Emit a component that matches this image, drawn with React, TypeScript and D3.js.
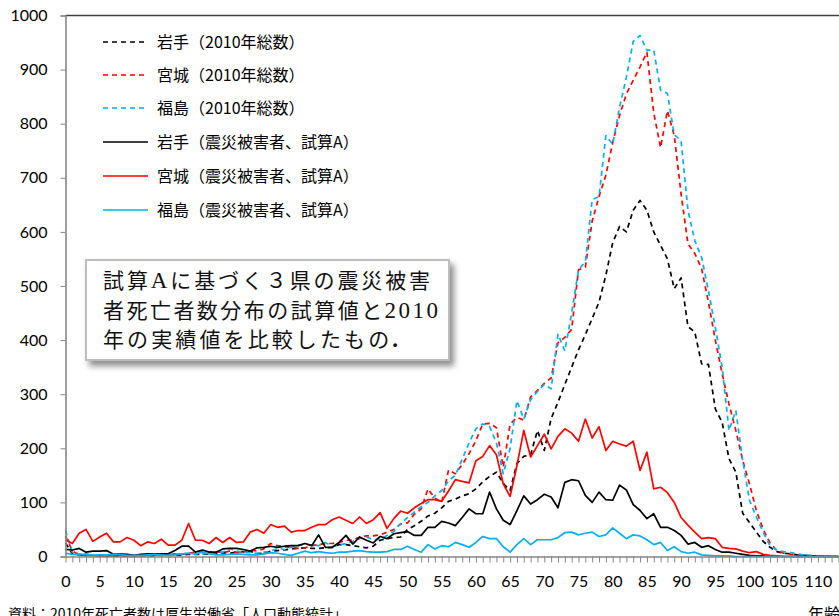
import React from 'react';
import * as d3 from 'd3';

// ages 0..113 (category axis)
const ages: number[] = Array.from({ length: 114 }, (_, i) => i);
const yTicks = [0, 100, 200, 300, 400, 500, 600, 700, 800, 900, 1000];

// 2010 totals (dashed)
const iwateTotal = [
  25, 5, 3, 2, 2, 1, 1, 1, 1, 1,
  1, 1, 1, 1, 2, 2, 2, 3, 4, 4,
  4, 5, 6, 7, 6, 8, 9, 10, 5, 6,
  10, 11, 12, 14, 15, 16, 15, 15, 16, 17,
  22, 22, 20, 18, 16, 19, 30, 33, 35, 36,
  50, 57, 65, 75, 80, 90, 102, 106, 112, 116,
  125, 138, 148, 156, 135, 122, 172, 185, 188, 233,
  196, 255, 285, 318, 350, 382, 410, 440, 470, 520,
  580, 610, 600, 640, 658, 640, 600, 575, 550, 495,
  515, 425, 415, 356, 355, 273, 248, 181, 156, 80,
  63, 45, 28, 17, 9, 6, 5, 3, 2, 1,
  1, 0, 0, 0,
];
const miyagiTotal = [
  38, 10, 3, 2, 2, 1, 1, 1, 2, 1,
  1, 1, 2, 3, 3, 3, 5, 4, 6, 8,
  9, 8, 9, 7, 10, 8, 8, 12, 10, 14,
  24, 20, 18, 17, 15, 16, 20, 22, 24, 24,
  26, 30, 30, 36, 38, 38, 40, 45, 50, 60,
  62, 78, 88, 125, 108, 100, 160, 153, 170, 190,
  214, 245, 246, 238, 165, 245, 257, 252, 295, 307,
  320, 330, 395, 405, 420, 530, 535, 620, 665, 705,
  765, 815, 855, 880, 905, 932, 820, 756, 824, 778,
  670, 578, 560, 532, 470, 400, 338, 282, 233, 178,
  134, 85, 50, 25, 11, 6, 4, 3, 2, 1,
  1, 0, 0, 0,
];
const fukushimaTotal = [
  48, 8, 5, 3, 2, 2, 2, 3, 4, 2,
  2, 2, 3, 3, 3, 4, 5, 5, 6, 5,
  5, 6, 7, 8, 15, 10, 8, 7, 6, 8,
  10, 15, 13, 17, 20, 23, 21, 20, 26, 18,
  21, 24, 28, 33, 36, 31, 32, 39, 46, 61,
  72, 82, 92, 100, 112, 122, 140, 150, 180, 210,
  236, 245, 240, 210, 153, 200, 288, 254, 290, 305,
  318, 310, 411, 380, 450, 530, 545, 660, 665, 778,
  762, 830, 886, 952, 963, 936, 936, 862, 856, 780,
  768, 640, 584, 553, 491, 424, 350, 233, 270, 178,
  104, 73, 45, 20, 12, 9, 7, 5, 3, 2,
  1, 1, 0, 0,
];

// estimate A (solid)
const iwateA = [
  13, 12, 15, 8, 10, 10, 11, 4, 5, 4,
  2, 4, 5, 5, 5, 5, 11, 19, 19, 8,
  12, 8, 8, 14, 15, 15, 13, 10, 16, 17,
  19, 17, 19, 20, 20, 24, 20, 40, 17, 17,
  26, 39, 23, 36, 30, 25, 37, 33, 42, 44,
  46, 39, 39, 54, 54, 65, 62, 57, 72, 88,
  79, 79, 119, 88, 67, 59, 85, 112, 97, 105,
  115, 110, 90, 137, 142, 140, 113, 100, 119, 105,
  104, 132, 123, 96, 85, 70, 79, 54, 54, 48,
  39, 23, 26, 17, 20, 13, 8, 8, 6, 4,
  2, 1, 1, 0, 0, 0, 0, 0, 0, 0,
  0, 0, 0, 0,
];
const miyagiA = [
  31, 24, 43, 50, 28, 36, 43, 27, 27, 35,
  30, 20, 27, 24, 32, 21, 21, 30, 61, 30,
  30, 24, 35, 26, 35, 26, 27, 45, 50, 43,
  59, 54, 56, 45, 48, 48, 54, 59, 59, 68,
  73, 67, 61, 73, 61, 68, 81, 52, 70, 84,
  80, 90, 98, 105, 105, 102, 121, 142, 139, 136,
  177, 185, 205, 188, 134, 111, 168, 233, 184, 205,
  226, 199, 222, 236, 228, 213, 254, 219, 240, 196,
  213, 208, 204, 213, 159, 193, 125, 128, 118, 100,
  72, 58, 45, 33, 35, 33, 17, 15, 14, 10,
  7, 9, 4, 2, 1, 0, 0, 0, 0, 0,
  0, 0, 0, 0,
];
const fukushimaA = [
  6, 4, 3, 5, 2, 3, 3, 4, 4, 2,
  2, 2, 3, 4, 3, 2, 3, 5, 6, 5,
  8, 5, 3, 3, 4, 5, 4, 3, 3, 5,
  7, 6, 4, 2, 6, 10, 7, 9, 7, 6,
  8, 8, 10, 11, 9, 8, 8, 9, 13, 13,
  19, 13, 8, 22, 14, 20, 18, 26, 22, 17,
  26, 37, 33, 33, 18, 8, 22, 33, 22, 31,
  31, 31, 35, 44, 45, 40, 43, 45, 37, 40,
  53, 43, 33, 40, 38, 31, 22, 26, 11, 18,
  9, 6, 8, 3, 2, 1, 1, 1, 0, 0,
  0, 0, 0, 0, 0, 0, 0, 0, 0, 0,
  0, 0, 0, 0,
];

const seriesNames = [
  '岩手（2010年総数）',
  '宮城（2010年総数）',
  '福島（2010年総数）',
  '岩手（震災被害者、試算A）',
  '宮城（震災被害者、試算A）',
  '福島（震災被害者、試算A）',
];

type Series = { name: string; values: number[]; color: string; dashed: boolean };

const series: Series[] = [
  { name: seriesNames[0], values: iwateTotal, color: '#000000', dashed: true },
  { name: seriesNames[1], values: miyagiTotal, color: '#ff0000', dashed: true },
  { name: seriesNames[2], values: fukushimaTotal, color: '#00b0f0', dashed: true },
  { name: seriesNames[3], values: iwateA, color: '#000000', dashed: false },
  { name: seriesNames[4], values: miyagiA, color: '#ff0000', dashed: false },
  { name: seriesNames[5], values: fukushimaA, color: '#00b0f0', dashed: false },
];

const W = 839;
const H = 616;
const left = 65.5;
const ageStep = 6.84;
const bottom = 556.5;
const top = 15.5;

const labelFont = 'Lato, "Noto Sans", sans-serif';
const jpFont = '"Noto Sans CJK JP", "Noto Sans", sans-serif';
const serifFont = '"Liberation Serif", "DejaVu Serif", serif';

export default function App() {
  const svgRef = React.useRef<SVGSVGElement>(null);

  React.useEffect(() => {
    const svg = d3.select(svgRef.current);
    svg.selectAll('*').remove();

    const x = d3.scaleLinear().domain([0, 113]).range([left, left + 113 * ageStep]);
    const y = d3.scaleLinear().domain([0, 1000]).range([bottom, top]);

    const defs = svg.append('defs');
    const f = defs.append('filter').attr('id', 'shadow').attr('x', '-10%').attr('y', '-10%')
      .attr('width', '130%').attr('height', '140%');
    f.append('feDropShadow').attr('dx', 4).attr('dy', 5).attr('stdDeviation', 3)
      .attr('flood-color', '#000').attr('flood-opacity', 0.45);

    // top border of plot area
    svg.append('line')
      .attr('x1', left).attr('x2', W).attr('y1', top).attr('y2', top)
      .attr('stroke', '#404040').attr('stroke-width', 1.6);

    // lines
    const line = d3.line<number>()
      .x((_, i) => x(ages[i]))
      .y(v => y(v));

    svg.selectAll('.series')
      .data(series)
      .join('path')
      .attr('class', 'series')
      .attr('d', d => line(d.values))
      .attr('fill', 'none')
      .attr('stroke', d => d.color)
      .attr('stroke-width', 1.7)
      .attr('stroke-linejoin', 'round')
      .attr('stroke-dasharray', d => (d.dashed ? '5,4' : null));

    // axes
    const xAxis = d3.axisBottom(x)
      .tickValues(ages)
      .tickSize(6)
      .tickPadding(13)
      .tickFormat(d => ((d as number) % 5 === 0 ? String(d) : ''));
    const gx = svg.append('g').attr('transform', `translate(0,${bottom})`).call(xAxis as any);
    gx.select('.domain').attr('stroke', '#868686').attr('stroke-width', 1.6)
      .attr('d', `M${left},0.5H${W}`);
    gx.selectAll('.tick line').attr('stroke', '#868686');
    gx.selectAll('text').attr('fill', '#000').style('font-family', labelFont).style('font-size', '16px');

    const yAxis = d3.axisLeft(y).tickValues(yTicks).tickSize(5).tickPadding(13)
      .tickFormat(d => String(d));
    const gy = svg.append('g').attr('transform', `translate(${left},0)`).call(yAxis as any);
    gy.select('.domain').attr('stroke', '#868686').attr('stroke-width', 1.6);
    gy.selectAll('.tick line').attr('stroke', '#868686');
    gy.selectAll('text').attr('fill', '#000').style('font-family', labelFont).style('font-size', '16px');

    // legend
    const legendY = [42, 75, 108, 142, 176, 210];
    const lg = svg.selectAll('.legend').data(series).join('g').attr('class', 'legend')
      .attr('transform', (_, i) => `translate(103,${legendY[i]})`);
    lg.append('line').attr('x1', 0).attr('x2', 45).attr('y1', 0).attr('y2', 0)
      .attr('stroke', d => d.color).attr('stroke-width', 1.7)
      .attr('stroke-dasharray', d => (d.dashed ? '5,4' : null));
    lg.append('text').attr('x', 54).attr('y', 6)
      .style('font-family', jpFont).style('font-size', '16px').attr('fill', '#000')
      .text(d => d.name);

    // annotation box
    svg.append('rect').attr('x', 86).attr('y', 260).attr('width', 363).attr('height', 100)
      .attr('fill', '#fff').attr('stroke', '#bdbdbd').attr('stroke-width', 2)
      .attr('filter', 'url(#shadow)');
    const noteLines: { parts: [string, boolean][]; base: number; len: number }[] = [
      { parts: [['試算', false], ['A', true], ['に基づく３県の震災被害', false]], base: 288, len: 327 },
      { parts: [['者死亡者数分布の試算値と', false], ['2010', true]], base: 318, len: 335 },
      { parts: [['年の実績値を比較したもの', false], ['.', true]], base: 347, len: 295 },
    ];
    noteLines.forEach(l => {
      const t = svg.append('text').attr('x', 103).attr('y', l.base)
        .attr('textLength', l.len).attr('lengthAdjust', 'spacing')
        .style('font-family', jpFont).style('font-size', '21px').attr('fill', '#111');
      l.parts.forEach(([s, serif]) => {
        t.append('tspan').style('font-family', serif ? serifFont : jpFont)
          .style('font-size', serif ? '23px' : '21px')
          .style('font-weight', s === '.' ? 'bold' : null)
          .text(s);
      });
    });

    // source + axis title (cut off by the frame, as in the original image)
    svg.append('text').attr('x', 8).attr('y', 619)
      .style('font-family', jpFont).style('font-size', '14px').attr('fill', '#000')
      .text('資料：2010年死亡者数は厚生労働省「人口動態統計」');
    svg.append('text').attr('x', 808).attr('y', 620)
      .style('font-family', jpFont).style('font-size', '16px').attr('fill', '#000')
      .text('年齢');
  }, []);

  return (
    <svg
      ref={svgRef}
      width={W}
      height={H}
      style={{ position: 'absolute', left: 0, top: 0, background: '#fff', display: 'block' }}
    />
  );
}
